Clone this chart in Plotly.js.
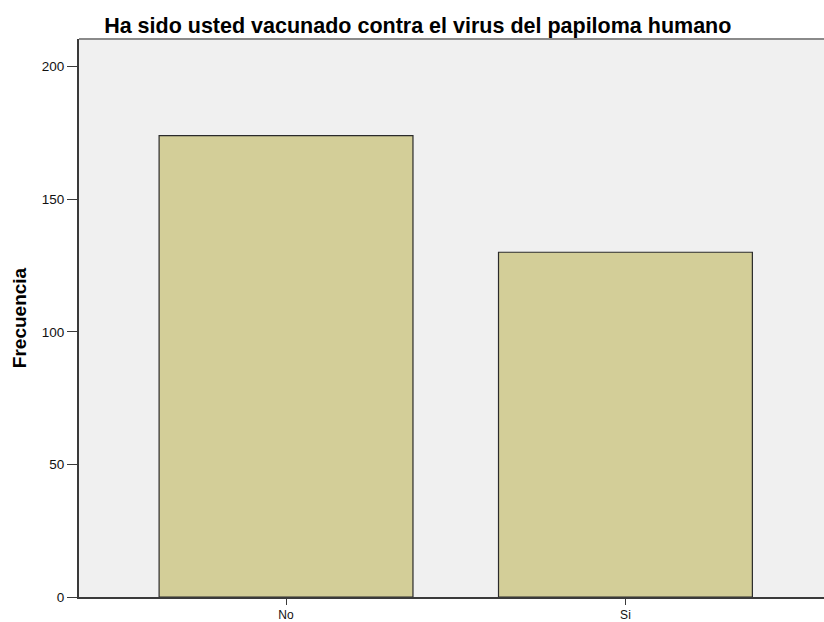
<!DOCTYPE html>
<html>
<head>
<meta charset="utf-8">
<script src="https://cdn.plot.ly/plotly-3.0.1.min.js"></script>
<style>html,body{margin:0;padding:0;background:#fff;}#chart{width:824px;height:622px;}</style>
</head>
<body>
<div id="chart"></div>
<script>
const categories = ["No", "Si"];
const frecuencia = [174, 130];
const yTicks = [0, 50, 100, 150, 200];
const chartTitle = "Ha sido usted vacunado contra el virus del papiloma humano";
const yTitle = "Frecuencia";

const FONT = "Liberation Sans, Arial, sans-serif";

const trace = {
  type: "bar",
  x: categories,
  y: frecuencia,
  width: 0.748,
  marker: {color: "#D3CE98", line: {color: "#2b2b2b", width: 1.2}},
  hoverinfo: "x+y"
};

const layout = {
  width: 824, height: 622,
  margin: {l: 79, r: 0, t: 39, b: 25},
  paper_bgcolor: "#ffffff",
  plot_bgcolor: "#F0F0F0",
  showlegend: false,
  title: {
    text: "<b>" + chartTitle + "</b>",
    font: {family: FONT, size: 21.5, color: "#000"},
    x: 0.507, xanchor: "center", y: 0.959, yanchor: "middle"
  },
  xaxis: {
    type: "category",
    range: [-0.61, 1.585],
    showgrid: false, zeroline: false,
    showline: true, linecolor: "#3a3a3a", linewidth: 2,
    ticks: "outside", ticklen: 6, tickwidth: 1, tickcolor: "#3a3a3a",
    tickfont: {family: FONT, size: 12, color: "#111"}
  },
  yaxis: {
    range: [0, 210.4],
    tickvals: yTicks,
    showgrid: false, zeroline: false,
    showline: true, linecolor: "#3a3a3a", linewidth: 2,
    ticks: "outside", ticklen: 10, tickwidth: 1, tickcolor: "#3a3a3a",
    tickfont: {family: FONT, size: 13.5, color: "#111"},
    title: {text: "<b>" + yTitle + "</b>", font: {family: FONT, size: 19, color: "#000"}, standoff: 10}
  },
  shapes: [{
    type: "line", xref: "paper", yref: "paper", x0: 0, x1: 1, y0: 1, y1: 1,
    line: {color: "#8a8a8a", width: 2}
  }]
};

Plotly.newPlot("chart", [trace], layout, {displayModeBar: false, staticPlot: true});
</script>
</body>
</html>
